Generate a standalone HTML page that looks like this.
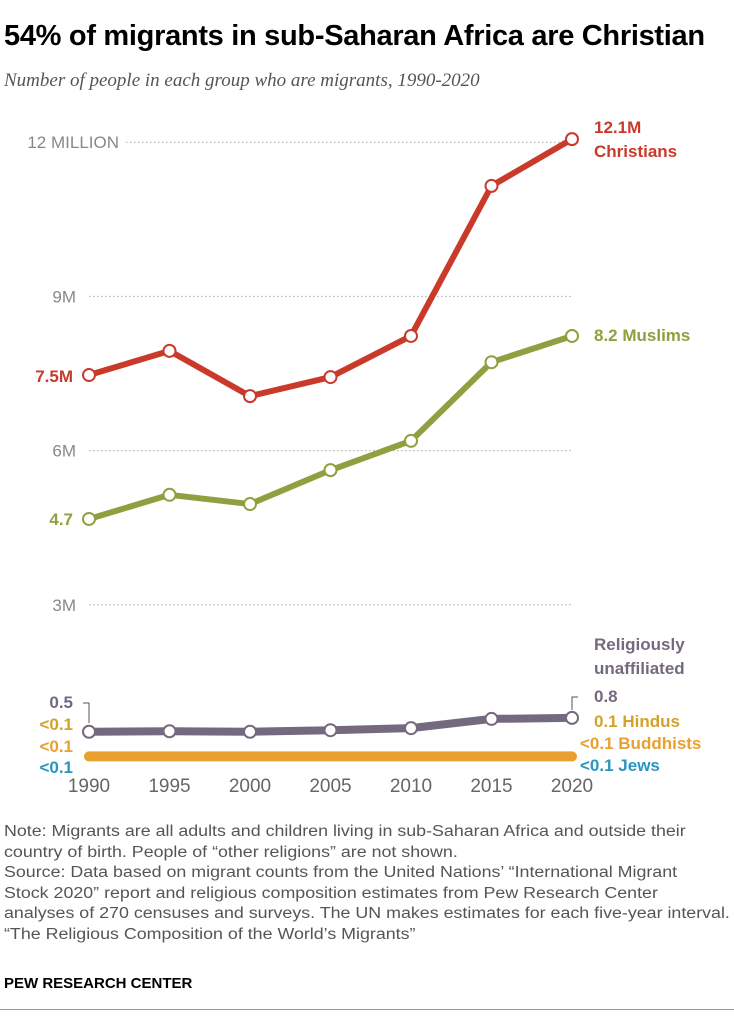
<!DOCTYPE html>
<html><head><meta charset="utf-8"><style>
body{margin:0;width:734px;height:1024px;background:#fff;font-family:"Liberation Sans",Arial,sans-serif;position:relative;overflow:hidden}
.t{position:absolute;margin:0}
</style></head><body>
<h1 class="t" style="left:4px;top:20px;font-size:29px;font-weight:bold;color:#000;letter-spacing:-0.3px;white-space:nowrap">54% of migrants in sub-Saharan Africa are Christian</h1>
<div class="t" style="left:4px;top:70px;font-family:'Liberation Serif',serif;font-style:italic;font-size:19px;color:#555">Number of people in each group who are migrants, 1990-2020</div>
<svg id="chart" width="734" height="800" style="position:absolute;left:0;top:0"></svg>
<div class="t" style="left:4px;top:822px;white-space:nowrap;font-size:15.5px;line-height:20.5px;color:#555;transform:scaleX(1.15);transform-origin:0 0">Note: Migrants are all adults and children living in sub-Saharan Africa and outside their<br>country of birth. People of “other religions” are not shown.<br>Source: Data based on migrant counts from the United Nations’ “International Migrant<br>Stock 2020” report and religious composition estimates from Pew Research Center<br>analyses of 270 censuses and surveys. The UN makes estimates for each five-year interval.<br>“The Religious Composition of the World’s Migrants”</div>
<div class="t" style="left:4px;top:975px;font-size:15px;font-weight:bold;color:#000">PEW RESEARCH CENTER</div>
<div class="t" style="left:0;top:1009px;width:734px;height:1px;background:#999"></div>
<script>
const years=[1990,1995,2000,2005,2010,2015,2020];
const christians=[7.47,7.94,7.06,7.43,8.23,11.15,12.06];
const muslims=[4.67,5.14,4.96,5.62,6.19,7.72,8.23];
const unaffiliated=[0.53,0.54,0.53,0.56,0.6,0.78,0.8];
const others=[0.05,0.05,0.05,0.05,0.05,0.05,0.05];
const yTicks=[3,6,9,12];
const yTickLabels=["3M","6M","9M","12 MILLION"];
const NS="http://www.w3.org/2000/svg";
const svg=document.getElementById('chart');
const x=y=>89+(y-1990)*(483/30);
const yv=v=>759-v*51.4;
function el(tag,attrs,text){const e=document.createElementNS(NS,tag);for(const k in attrs)e.setAttribute(k,attrs[k]);if(text!==undefined)e.textContent=text;svg.appendChild(e);return e;}
yTicks.forEach((t,i)=>{
 const g=el('line',{x1:i==3?126:89,x2:572,y1:yv(t),y2:yv(t),stroke:'#aaa','stroke-width':1,'stroke-dasharray':'1.5,2.5'});
 
 
 const l=el('text',{x:i==3?119:76,y:yv(t)+6,'text-anchor':'end','font-size':17,fill:'#888'},yTickLabels[i]);
 
 
});
years.forEach(y=>{
 const l=el('text',{x:x(y),y:792,'text-anchor':'middle','font-size':19,fill:'#666'},y);
 
 
});
function series(vals,color,name,markers,w){
 const p=el('polyline',{points:vals.map((v,i)=>x(years[i])+','+yv(v)).join(' '),fill:'none',stroke:color,'stroke-width':w,'stroke-linejoin':'round','stroke-linecap':'round'});
 
 
 if(markers)vals.forEach((v,i)=>{
  const c=el('circle',{cx:x(years[i]),cy:yv(v),r:6,fill:'#fff',stroke:color,'stroke-width':2});
  
  
 });
}
series(others,'#e8a030','others',false,10);
series(unaffiliated,'#75697f','unaffiliated',true,8);
series(muslims,'#8ea03f','muslims',true,6);
series(christians,'#c93a2b','christians',true,6);
function lab(txt,xx,yy,color,anchor,name){const t=el('text',{x:xx,y:yy,'text-anchor':anchor,'font-size':17,'font-weight':'bold',fill:color},txt);
 
 }
lab('12.1M',594,133,'#c93a2b','start','christians-end-label');
lab('Christians',594,157,'#c93a2b','start','christians-name-label');
lab('7.5M',73,382,'#c93a2b','end','christians-start-label');
lab('8.2 Muslims',594,341,'#8ea03f','start','muslims-end-label');
lab('4.7',73,525,'#8ea03f','end','muslims-start-label');
lab('Religiously',594,650,'#75697f','start','unaffiliated-name-label');
lab('unaffiliated',594,674,'#75697f','start','unaffiliated-name-label-2');
lab('0.8',594,702,'#75697f','start','unaffiliated-end-label');
lab('0.5',73,708,'#75697f','end','unaffiliated-start-label');
lab('0.1 Hindus',594,727,'#d4a22a','start','hindus-label');
lab('<0.1 Buddhists',580,749,'#e8a030','start','buddhists-label');
lab('<0.1 Jews',580,771,'#2a95c0','start','jews-label');
lab('<0.1',73,730,'#d4a22a','end','hindus-start-label');
lab('<0.1',73,752,'#e8a030','end','buddhists-start-label');
lab('<0.1',73,773,'#2a95c0','end','jews-start-label');
const c1=el('polyline',{points:'83,703 89,703 89,723',fill:'none',stroke:'#555','stroke-width':1});


const c2=el('polyline',{points:'578,697 572,697 572,710',fill:'none',stroke:'#555','stroke-width':1});


</script>
</body></html>
